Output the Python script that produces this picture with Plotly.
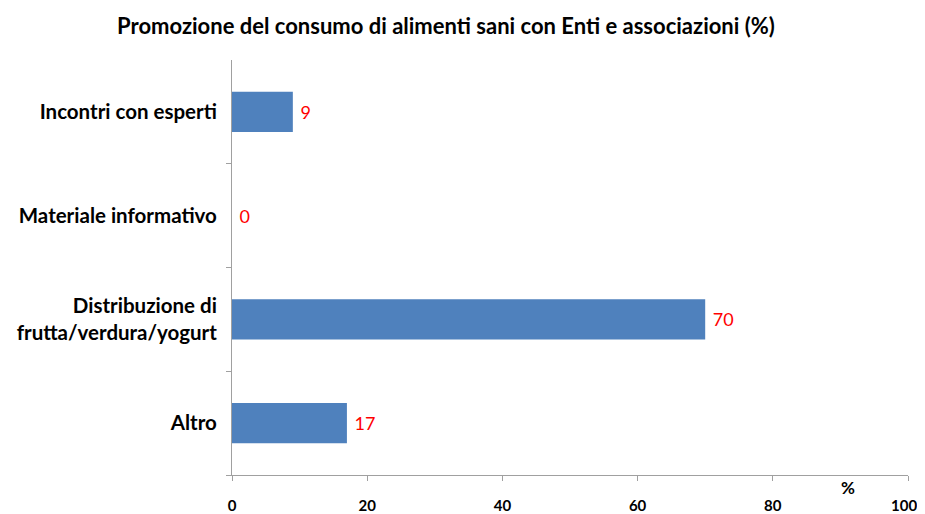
import plotly.graph_objects as go

categories = ["Incontri con esperti", "Materiale informativo",
              "Distribuzione di<br>frutta/verdura/yogurt", "Altro"]
values = [9, 0, 70, 17]
x_ticks = [0, 20, 40, 60, 80, 100]

fig = go.Figure(go.Bar(
    y=categories, x=values, orientation="h",
    marker=dict(color="#4F81BD", line=dict(width=0)),
    width=0.39,
    text=[f" {v}" for v in values], textposition="outside",
    textfont=dict(color="#FF0000", size=18, family="Lato"),
    cliponaxis=False,
))

# page body has an 8px margin, so the figure is sized/offset to compensate
fig.update_layout(
    width=917, height=506,
    margin=dict(l=224, r=17, t=52, b=39, autoexpand=False),
    plot_bgcolor="white", paper_bgcolor="white",
    showlegend=False,
    font=dict(family="Lato", color="black"),
    title=dict(text="<b>Promozione del consumo di alimenti sani con Enti e associazioni (%)</b>",
               x=0.4776, xanchor="center", y=0.964, yanchor="middle",
               font=dict(size=22, family="Lato", color="black")),
)
tick_text = [f"<b>{t}</b>" for t in x_ticks]
tick_text[-1] = tick_text[-1] + "&nbsp;&nbsp;"  # keep the last label inside the window
fig.update_xaxes(
    range=[0, 100], tickvals=x_ticks, ticktext=tick_text,
    showgrid=False, zeroline=False, showline=True, linecolor="#A0A0A0", linewidth=1,
    ticks="outside", ticklen=5, tickcolor="#A0A0A0",
    tickfont=dict(size=15, family="Lato", color="black"),
    ticklabelstandoff=12, automargin=False,
)
fig.update_yaxes(
    categoryorder="array", categoryarray=categories[::-1],
    ticktext=[f"<b>{c}</b>" for c in categories], tickvals=categories,
    tickson="boundaries",
    showgrid=False, zeroline=False, showline=True, linecolor="#A0A0A0", linewidth=1,
    ticks="outside", ticklen=5, tickcolor="#A0A0A0",
    tickfont=dict(size=20.5, family="Lato", color="black"),
    ticklabelstandoff=10, automargin=False,
)
fig.add_annotation(text="<b>%</b>", xref="paper", yref="paper", x=0.911, y=-0.029,
                   showarrow=False, font=dict(size=17, family="Lato", color="black"),
                   xanchor="center", yanchor="middle")

fig.write_html("out.html")
